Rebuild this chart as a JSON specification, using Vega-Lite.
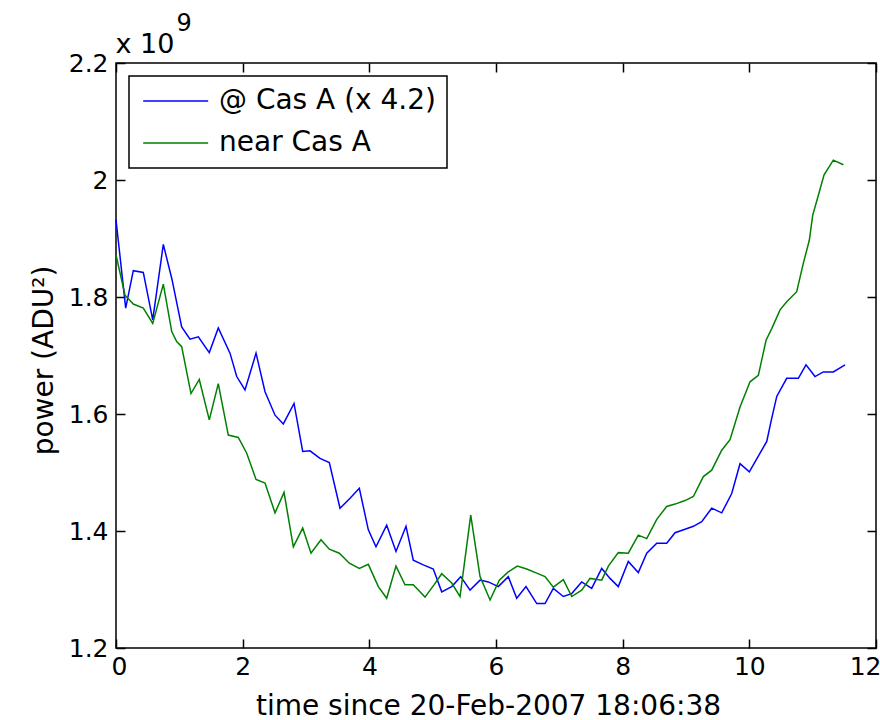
{
  "$schema": "https://vega.github.io/schema/vega-lite/v6.json",
  "width": 760,
  "height": 585,
  "autosize": "none",
  "padding": {"left": 116, "top": 63, "right": 4, "bottom": 72},
  "background": "white",
  "datasets": {
    "power": [
      {"t": 0.000, "v": 1.932, "s": "@ Cas A (x 4.2)"},
      {"t": 0.153, "v": 1.781, "s": "@ Cas A (x 4.2)"},
      {"t": 0.273, "v": 1.845, "s": "@ Cas A (x 4.2)"},
      {"t": 0.431, "v": 1.842, "s": "@ Cas A (x 4.2)"},
      {"t": 0.580, "v": 1.761, "s": "@ Cas A (x 4.2)"},
      {"t": 0.747, "v": 1.890, "s": "@ Cas A (x 4.2)"},
      {"t": 0.884, "v": 1.830, "s": "@ Cas A (x 4.2)"},
      {"t": 1.037, "v": 1.749, "s": "@ Cas A (x 4.2)"},
      {"t": 1.168, "v": 1.728, "s": "@ Cas A (x 4.2)"},
      {"t": 1.300, "v": 1.732, "s": "@ Cas A (x 4.2)"},
      {"t": 1.473, "v": 1.705, "s": "@ Cas A (x 4.2)"},
      {"t": 1.615, "v": 1.747, "s": "@ Cas A (x 4.2)"},
      {"t": 1.800, "v": 1.704, "s": "@ Cas A (x 4.2)"},
      {"t": 1.906, "v": 1.664, "s": "@ Cas A (x 4.2)"},
      {"t": 2.037, "v": 1.641, "s": "@ Cas A (x 4.2)"},
      {"t": 2.211, "v": 1.704, "s": "@ Cas A (x 4.2)"},
      {"t": 2.353, "v": 1.638, "s": "@ Cas A (x 4.2)"},
      {"t": 2.511, "v": 1.598, "s": "@ Cas A (x 4.2)"},
      {"t": 2.642, "v": 1.583, "s": "@ Cas A (x 4.2)"},
      {"t": 2.811, "v": 1.618, "s": "@ Cas A (x 4.2)"},
      {"t": 2.948, "v": 1.536, "s": "@ Cas A (x 4.2)"},
      {"t": 3.063, "v": 1.537, "s": "@ Cas A (x 4.2)"},
      {"t": 3.221, "v": 1.524, "s": "@ Cas A (x 4.2)"},
      {"t": 3.368, "v": 1.517, "s": "@ Cas A (x 4.2)"},
      {"t": 3.537, "v": 1.439, "s": "@ Cas A (x 4.2)"},
      {"t": 3.695, "v": 1.456, "s": "@ Cas A (x 4.2)"},
      {"t": 3.842, "v": 1.473, "s": "@ Cas A (x 4.2)"},
      {"t": 3.984, "v": 1.402, "s": "@ Cas A (x 4.2)"},
      {"t": 4.105, "v": 1.373, "s": "@ Cas A (x 4.2)"},
      {"t": 4.274, "v": 1.410, "s": "@ Cas A (x 4.2)"},
      {"t": 4.421, "v": 1.365, "s": "@ Cas A (x 4.2)"},
      {"t": 4.579, "v": 1.408, "s": "@ Cas A (x 4.2)"},
      {"t": 4.694, "v": 1.350, "s": "@ Cas A (x 4.2)"},
      {"t": 4.852, "v": 1.342, "s": "@ Cas A (x 4.2)"},
      {"t": 5.010, "v": 1.335, "s": "@ Cas A (x 4.2)"},
      {"t": 5.143, "v": 1.296, "s": "@ Cas A (x 4.2)"},
      {"t": 5.301, "v": 1.305, "s": "@ Cas A (x 4.2)"},
      {"t": 5.443, "v": 1.322, "s": "@ Cas A (x 4.2)"},
      {"t": 5.590, "v": 1.299, "s": "@ Cas A (x 4.2)"},
      {"t": 5.748, "v": 1.316, "s": "@ Cas A (x 4.2)"},
      {"t": 5.879, "v": 1.313, "s": "@ Cas A (x 4.2)"},
      {"t": 6.037, "v": 1.305, "s": "@ Cas A (x 4.2)"},
      {"t": 6.194, "v": 1.322, "s": "@ Cas A (x 4.2)"},
      {"t": 6.327, "v": 1.285, "s": "@ Cas A (x 4.2)"},
      {"t": 6.474, "v": 1.305, "s": "@ Cas A (x 4.2)"},
      {"t": 6.643, "v": 1.276, "s": "@ Cas A (x 4.2)"},
      {"t": 6.774, "v": 1.276, "s": "@ Cas A (x 4.2)"},
      {"t": 6.905, "v": 1.302, "s": "@ Cas A (x 4.2)"},
      {"t": 7.063, "v": 1.288, "s": "@ Cas A (x 4.2)"},
      {"t": 7.196, "v": 1.293, "s": "@ Cas A (x 4.2)"},
      {"t": 7.353, "v": 1.313, "s": "@ Cas A (x 4.2)"},
      {"t": 7.511, "v": 1.302, "s": "@ Cas A (x 4.2)"},
      {"t": 7.669, "v": 1.336, "s": "@ Cas A (x 4.2)"},
      {"t": 7.800, "v": 1.319, "s": "@ Cas A (x 4.2)"},
      {"t": 7.931, "v": 1.305, "s": "@ Cas A (x 4.2)"},
      {"t": 8.089, "v": 1.348, "s": "@ Cas A (x 4.2)"},
      {"t": 8.247, "v": 1.329, "s": "@ Cas A (x 4.2)"},
      {"t": 8.380, "v": 1.362, "s": "@ Cas A (x 4.2)"},
      {"t": 8.538, "v": 1.379, "s": "@ Cas A (x 4.2)"},
      {"t": 8.696, "v": 1.379, "s": "@ Cas A (x 4.2)"},
      {"t": 8.827, "v": 1.397, "s": "@ Cas A (x 4.2)"},
      {"t": 8.985, "v": 1.403, "s": "@ Cas A (x 4.2)"},
      {"t": 9.116, "v": 1.408, "s": "@ Cas A (x 4.2)"},
      {"t": 9.248, "v": 1.416, "s": "@ Cas A (x 4.2)"},
      {"t": 9.406, "v": 1.439, "s": "@ Cas A (x 4.2)"},
      {"t": 9.564, "v": 1.431, "s": "@ Cas A (x 4.2)"},
      {"t": 9.722, "v": 1.464, "s": "@ Cas A (x 4.2)"},
      {"t": 9.853, "v": 1.515, "s": "@ Cas A (x 4.2)"},
      {"t": 10.000, "v": 1.501, "s": "@ Cas A (x 4.2)"},
      {"t": 10.142, "v": 1.528, "s": "@ Cas A (x 4.2)"},
      {"t": 10.275, "v": 1.553, "s": "@ Cas A (x 4.2)"},
      {"t": 10.354, "v": 1.593, "s": "@ Cas A (x 4.2)"},
      {"t": 10.433, "v": 1.630, "s": "@ Cas A (x 4.2)"},
      {"t": 10.590, "v": 1.661, "s": "@ Cas A (x 4.2)"},
      {"t": 10.774, "v": 1.661, "s": "@ Cas A (x 4.2)"},
      {"t": 10.895, "v": 1.684, "s": "@ Cas A (x 4.2)"},
      {"t": 11.037, "v": 1.664, "s": "@ Cas A (x 4.2)"},
      {"t": 11.168, "v": 1.672, "s": "@ Cas A (x 4.2)"},
      {"t": 11.326, "v": 1.672, "s": "@ Cas A (x 4.2)"},
      {"t": 11.511, "v": 1.684, "s": "@ Cas A (x 4.2)"},
      {"t": 0.000, "v": 1.872, "s": "near Cas A"},
      {"t": 0.142, "v": 1.803, "s": "near Cas A"},
      {"t": 0.273, "v": 1.788, "s": "near Cas A"},
      {"t": 0.431, "v": 1.781, "s": "near Cas A"},
      {"t": 0.580, "v": 1.755, "s": "near Cas A"},
      {"t": 0.747, "v": 1.822, "s": "near Cas A"},
      {"t": 0.880, "v": 1.741, "s": "near Cas A"},
      {"t": 0.958, "v": 1.724, "s": "near Cas A"},
      {"t": 1.037, "v": 1.715, "s": "near Cas A"},
      {"t": 1.184, "v": 1.635, "s": "near Cas A"},
      {"t": 1.315, "v": 1.659, "s": "near Cas A"},
      {"t": 1.473, "v": 1.590, "s": "near Cas A"},
      {"t": 1.615, "v": 1.652, "s": "near Cas A"},
      {"t": 1.773, "v": 1.564, "s": "near Cas A"},
      {"t": 1.931, "v": 1.560, "s": "near Cas A"},
      {"t": 2.064, "v": 1.533, "s": "near Cas A"},
      {"t": 2.211, "v": 1.488, "s": "near Cas A"},
      {"t": 2.353, "v": 1.482, "s": "near Cas A"},
      {"t": 2.511, "v": 1.431, "s": "near Cas A"},
      {"t": 2.653, "v": 1.466, "s": "near Cas A"},
      {"t": 2.800, "v": 1.373, "s": "near Cas A"},
      {"t": 2.948, "v": 1.405, "s": "near Cas A"},
      {"t": 3.079, "v": 1.362, "s": "near Cas A"},
      {"t": 3.237, "v": 1.385, "s": "near Cas A"},
      {"t": 3.368, "v": 1.369, "s": "near Cas A"},
      {"t": 3.526, "v": 1.362, "s": "near Cas A"},
      {"t": 3.684, "v": 1.345, "s": "near Cas A"},
      {"t": 3.842, "v": 1.336, "s": "near Cas A"},
      {"t": 3.984, "v": 1.343, "s": "near Cas A"},
      {"t": 4.142, "v": 1.305, "s": "near Cas A"},
      {"t": 4.274, "v": 1.285, "s": "near Cas A"},
      {"t": 4.421, "v": 1.340, "s": "near Cas A"},
      {"t": 4.563, "v": 1.308, "s": "near Cas A"},
      {"t": 4.694, "v": 1.308, "s": "near Cas A"},
      {"t": 4.879, "v": 1.287, "s": "near Cas A"},
      {"t": 5.021, "v": 1.308, "s": "near Cas A"},
      {"t": 5.143, "v": 1.327, "s": "near Cas A"},
      {"t": 5.301, "v": 1.311, "s": "near Cas A"},
      {"t": 5.432, "v": 1.288, "s": "near Cas A"},
      {"t": 5.601, "v": 1.427, "s": "near Cas A"},
      {"t": 5.748, "v": 1.322, "s": "near Cas A"},
      {"t": 5.906, "v": 1.282, "s": "near Cas A"},
      {"t": 6.052, "v": 1.316, "s": "near Cas A"},
      {"t": 6.194, "v": 1.330, "s": "near Cas A"},
      {"t": 6.336, "v": 1.340, "s": "near Cas A"},
      {"t": 6.485, "v": 1.335, "s": "near Cas A"},
      {"t": 6.643, "v": 1.328, "s": "near Cas A"},
      {"t": 6.774, "v": 1.322, "s": "near Cas A"},
      {"t": 6.905, "v": 1.304, "s": "near Cas A"},
      {"t": 7.063, "v": 1.317, "s": "near Cas A"},
      {"t": 7.196, "v": 1.288, "s": "near Cas A"},
      {"t": 7.353, "v": 1.299, "s": "near Cas A"},
      {"t": 7.485, "v": 1.319, "s": "near Cas A"},
      {"t": 7.669, "v": 1.316, "s": "near Cas A"},
      {"t": 7.774, "v": 1.340, "s": "near Cas A"},
      {"t": 7.931, "v": 1.363, "s": "near Cas A"},
      {"t": 8.089, "v": 1.362, "s": "near Cas A"},
      {"t": 8.247, "v": 1.393, "s": "near Cas A"},
      {"t": 8.380, "v": 1.387, "s": "near Cas A"},
      {"t": 8.538, "v": 1.420, "s": "near Cas A"},
      {"t": 8.696, "v": 1.442, "s": "near Cas A"},
      {"t": 8.827, "v": 1.446, "s": "near Cas A"},
      {"t": 8.985, "v": 1.452, "s": "near Cas A"},
      {"t": 9.116, "v": 1.459, "s": "near Cas A"},
      {"t": 9.274, "v": 1.493, "s": "near Cas A"},
      {"t": 9.406, "v": 1.504, "s": "near Cas A"},
      {"t": 9.564, "v": 1.538, "s": "near Cas A"},
      {"t": 9.695, "v": 1.556, "s": "near Cas A"},
      {"t": 9.853, "v": 1.612, "s": "near Cas A"},
      {"t": 10.011, "v": 1.655, "s": "near Cas A"},
      {"t": 10.142, "v": 1.666, "s": "near Cas A"},
      {"t": 10.264, "v": 1.726, "s": "near Cas A"},
      {"t": 10.354, "v": 1.746, "s": "near Cas A"},
      {"t": 10.485, "v": 1.778, "s": "near Cas A"},
      {"t": 10.590, "v": 1.792, "s": "near Cas A"},
      {"t": 10.748, "v": 1.809, "s": "near Cas A"},
      {"t": 10.853, "v": 1.858, "s": "near Cas A"},
      {"t": 10.947, "v": 1.897, "s": "near Cas A"},
      {"t": 11.001, "v": 1.940, "s": "near Cas A"},
      {"t": 11.090, "v": 1.974, "s": "near Cas A"},
      {"t": 11.180, "v": 2.009, "s": "near Cas A"},
      {"t": 11.326, "v": 2.034, "s": "near Cas A"},
      {"t": 11.485, "v": 2.026, "s": "near Cas A"}
    ]
  },
  "data": {"name": "power"},
  "layer": [
    {
      "mark": {"type": "line", "strokeWidth": 1.5, "opacity": 0},
      "encoding": {
        "x": {"field": "t", "type": "quantitative", "scale": {"domain": [0, 12], "nice": false},
          "axis": {"orient": "top", "labels": false, "title": "x 10", "values": [0, 2, 4, 6, 8, 10, 12],
            "titleX": -1, "titleY": -20, "titleAlign": "left", "titleBaseline": "alphabetic", "titleAngle": 0, "titleFontSize": 27}},
        "y": {"field": "v", "type": "quantitative", "scale": {"domain": [1.2, 2.2], "nice": false, "zero": false},
          "axis": {"orient": "right", "labels": false, "title": "9", "values": [1.2, 1.4, 1.6, 1.8, 2.0, 2.2],
            "titleX": -691, "titleY": -33, "titleAlign": "left", "titleBaseline": "alphabetic", "titleAngle": 0, "titleFontSize": 24}},
        "detail": {"field": "s"}
      }
    },
    {
      "mark": {"type": "line", "strokeWidth": 1.5},
      "encoding": {
        "x": {"field": "t", "type": "quantitative", "scale": {"domain": [0, 12], "nice": false},
          "axis": {"orient": "bottom", "title": "time since 20-Feb-2007 18:06:38", "values": [0, 2, 4, 6, 8, 10, 12], "format": "d", "labelPadding": 6,
            "labelFlush": true, "labelFlushOffset": 5,
            "titleX": 372, "titleY": 75, "titleAlign": "center", "titleBaseline": "alphabetic", "titleFontSize": 28}},
        "y": {"field": "v", "type": "quantitative", "scale": {"domain": [1.2, 2.2], "nice": false, "zero": false},
          "axis": {"orient": "left", "title": "power (ADU²)", "values": [1.2, 1.4, 1.6, 1.8, 2.0, 2.2], "format": ".1~f", "labelPadding": 8,
            "titleX": -73, "titleY": 297, "titleAngle": -90, "titleAlign": "center", "titleBaseline": "alphabetic", "titleFontSize": 28}},
        "color": {"field": "s", "type": "nominal",
          "scale": {"domain": ["@ Cas A (x 4.2)", "near Cas A"], "range": ["#0000ff", "#008000"]},
          "legend": {"title": null, "orient": "none", "legendX": 13, "legendY": 13}}
      }
    }
  ],
  "resolve": {"axis": {"x": "independent", "y": "independent"}},
  "config": {
    "font": "DejaVu Sans",
    "view": {"stroke": "black", "strokeWidth": 1.5},
    "axis": {
      "domain": false, "offset": -9,
      "tickColor": "black", "tickWidth": 1.5, "tickSize": 9,
      "labelColor": "black", "labelFontSize": 25, "labelFont": "DejaVu Sans",
      "titleColor": "black", "titleFontSize": 28, "titleFontWeight": "normal", "titleFont": "DejaVu Sans",
      "grid": false, "labelFlush": false, "labelOverlap": false
    },
    "legend": {
      "fillColor": "white", "strokeColor": "black", "strokeWidth": 1.5, "padding": 11,
      "labelFontSize": 28, "labelFont": "DejaVu Sans", "labelColor": "black", "labelLimit": 500, "labelOffset": 51,
      "symbolType": "M-1,0H5", "symbolSize": 469, "symbolStrokeWidth": 1.5, "rowPadding": 14
    }
  }
}
